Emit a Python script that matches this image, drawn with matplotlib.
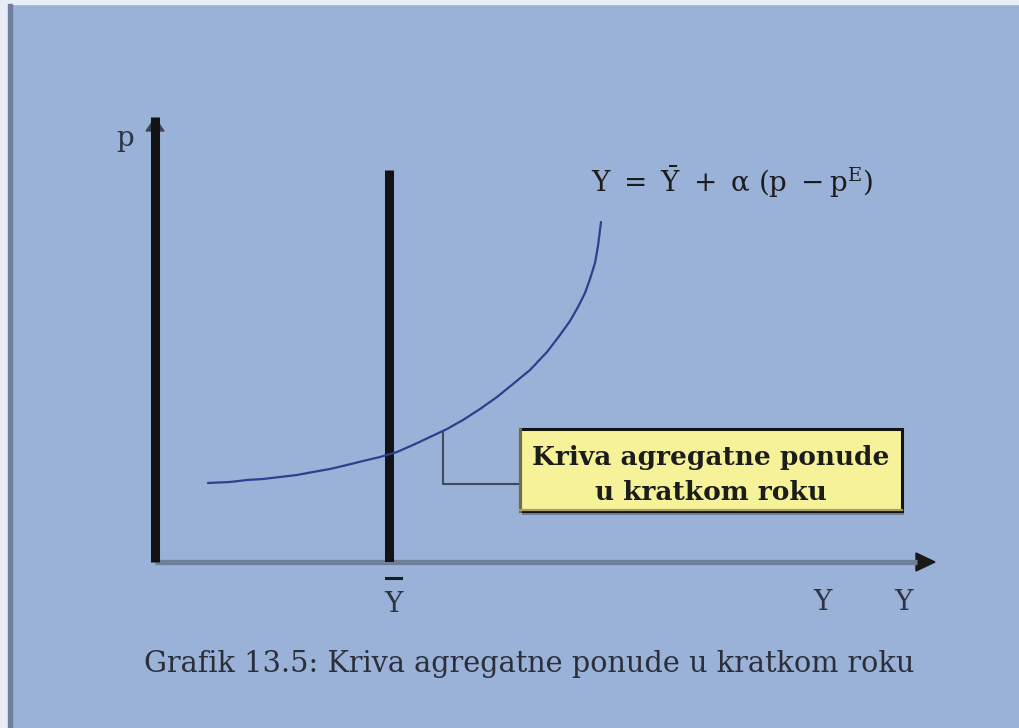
import matplotlib
matplotlib.use("Agg")
import matplotlib.pyplot as plt
from matplotlib.patches import Rectangle, Polygon

plt.rcParams['font.family'] = ['DejaVu Serif', 'Liberation Serif']
plt.rcParams['mathtext.fontset'] = 'dejavuserif'

# short-run aggregate supply curve (Y, p)
curve_y = [53, 75, 92, 108, 125, 142, 158, 175, 192, 208, 225, 242, 258, 275, 292,
           308, 325, 342, 358, 375, 392, 405, 415, 423, 430, 435, 440, 443, 446]
curve_p = [79, 80, 82, 83, 85, 87, 90, 93, 97, 101, 105, 110, 117, 125, 133,
           142, 153, 165, 178, 192, 210, 227, 241, 255, 269, 283, 299, 316, 340]

y_bar = 234          # potential output
y_bar_top = 392
x_max, p_max = 780, 449

box_text = ["Kriva agregatne ponude", "u kratkom roku"]
caption = "Grafik 13.5: Kriva agregatne ponude u kratkom roku"
equation = r"$\mathrm{Y}\ =\ \bar{\mathrm{Y}}\ +\ \mathrm{\alpha}\ (\mathrm{p}\ -\mathrm{p}^{\mathrm{E}})$"

bg = '#9AB2D8'
ink = '#1c1c1c'
soft = '#2e3442'

fig = plt.figure(figsize=(10.2, 7.28), dpi=100, facecolor=bg)

# frame bits of the scan: light margin + dark strip on the left
fig.patches.append(Rectangle((0, 0), 8 / 1020, 1, transform=fig.transFigure,
                             color='#E9EEF6', zorder=0))
fig.patches.append(Rectangle((0, 1 - 4 / 728), 1, 4 / 728, transform=fig.transFigure,
                             color='#E9EEF6', zorder=0))
fig.patches.append(Rectangle((8 / 1020, 0), 4 / 1020, 1 - 4 / 728, transform=fig.transFigure,
                             color='#6F7F9C', zorder=1))

ax = fig.add_axes([155 / 1020, 166 / 728, 780 / 1020, 449 / 728])
ax.set_xlim(0, x_max)
ax.set_ylim(0, p_max)
ax.axis('off')
ax.patch.set_alpha(0)

# horizontal axis (grey) with arrow
ax.plot([0, x_max - 18], [0, 0], color='#6F7F99', lw=3.8, solid_capstyle='butt', clip_on=False)
ax.add_patch(Polygon([[x_max - 19, -9], [x_max - 19, 9], [x_max, 0]], closed=True,
                     color='#1a1a1a', clip_on=False))

# vertical axis (thick black) with small arrow
ax.plot([0, 0], [0, p_max - 4], color='#131313', lw=6.5, solid_capstyle='butt', clip_on=False)
ax.add_patch(Polygon([[-9, p_max - 18], [9, p_max - 18], [0, p_max - 5]], closed=True,
                     color='#3c4556', clip_on=False))

# long-run line at Y bar
ax.plot([y_bar, y_bar], [0, y_bar_top], color='#131313', lw=6.5, solid_capstyle='butt')

# SRAS curve
ax.plot(curve_y, curve_p, color='#2E3F8F', lw=1.6, solid_capstyle='round',
        solid_joinstyle='round')

# leader line to the note box
ax.plot([288, 288, 365], [130, 78, 78], color='#3F4A5E', lw=1.5)

# note box with shadow
ax.add_patch(Rectangle((367, 47), 382, 4, color='#6E7E9A', lw=0))
ax.add_patch(Rectangle((365, 51), 382, 82, facecolor='#F6F29A', edgecolor='#141414', lw=2.2))
ax.plot([365, 365], [51, 133], color='#746C3E', lw=2.2)
ax.plot([365, 747], [52, 52], color='#A59F62', lw=1.6)
ax.text(556, 104, box_text[0], ha='center', va='center', fontsize=19, color=ink,
        fontweight='bold')
ax.text(556, 70, box_text[1], ha='center', va='center', fontsize=19, color=ink,
        fontweight='bold')

# labels
ax.text(577, 380, equation, ha='center', va='center', fontsize=20, color=ink)
ax.text(-30, 424, "p", ha='center', va='center', fontsize=20, color=soft, clip_on=False)
ax.plot([231, 246], [-16, -16], color=ink, lw=2.2, clip_on=False)
ax.text(238, -42, "Y", ha='center', va='center', fontsize=20, color=soft, clip_on=False)
ax.text(667, -41, "Y", ha='center', va='center', fontsize=20, color=soft, clip_on=False)
ax.text(748, -41, "Y", ha='center', va='center', fontsize=20, color=soft, clip_on=False)

fig.text(529 / 1020, 1 - 664 / 728, caption, ha='center', va='center', fontsize=20.7,
         color='#2b2f3a')

fig.savefig('out.png', dpi=100, facecolor=bg)
